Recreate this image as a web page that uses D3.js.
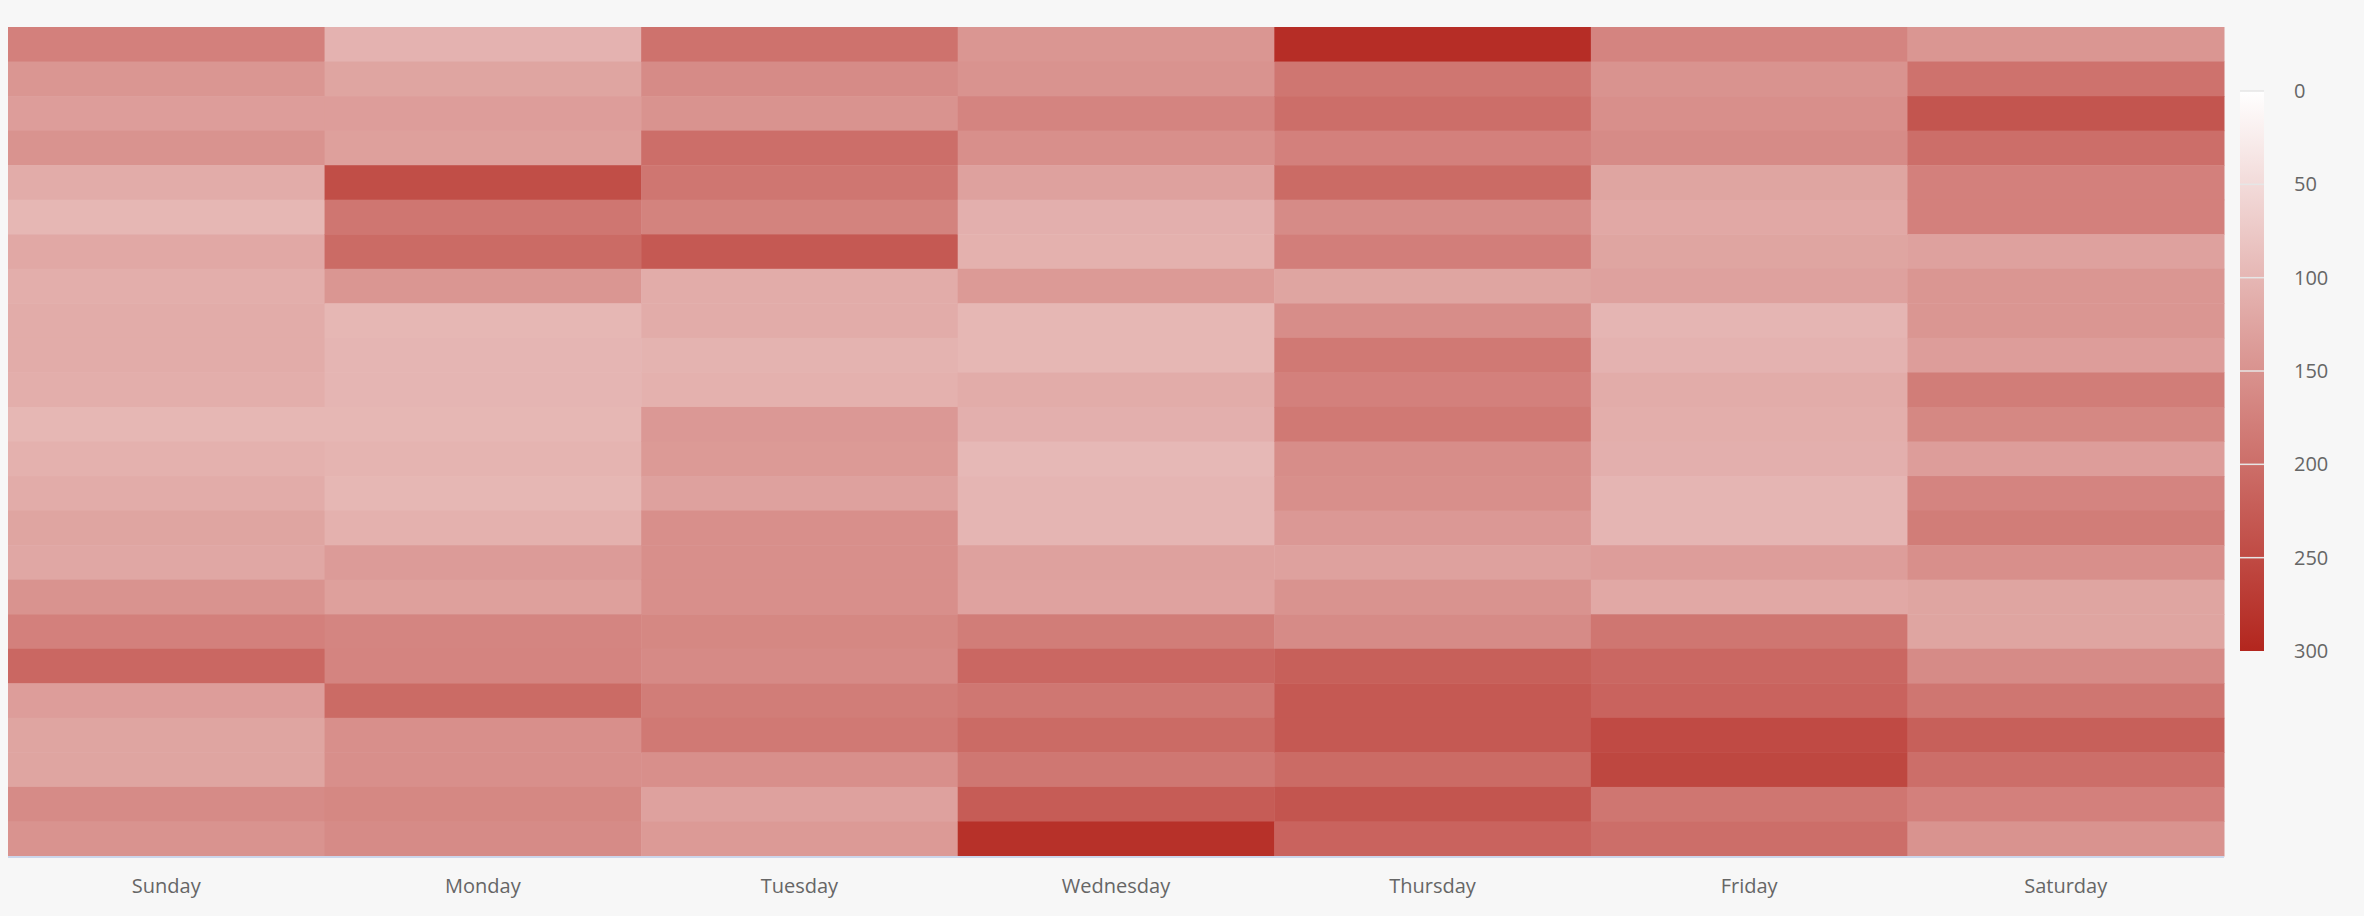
<!DOCTYPE html>
<html><head><meta charset="utf-8">
<script src="https://cdn.jsdelivr.net/npm/d3@7/dist/d3.min.js"></script>
<style>body{margin:0;background:#f7f7f7;}svg{display:block;font-family:"Open Sans","DejaVu Sans",sans-serif;}</style>
</head><body><svg id="c" width="2364" height="916"></svg>
<script>
const days = ["Sunday","Monday","Tuesday","Wednesday","Thursday","Friday","Saturday"];
const hours = d3.range(24);
const sunday    = [175,145,135,150,115,100,120,112,115,115,112,100,108,115,125,122,150,175,210,135,125,125,160,150];
const monday    = [106,125,135,132,245,190,205,145,100,102,102,100,104,100,108,138,132,168,170,205,155,155,165,160];
const tuesday   = [195,160,150,200,190,172,230,115,115,105,108,142,140,130,155,155,155,165,162,180,185,155,130,140];
const wednesday = [145,150,170,155,130,110,108,140,100,100,115,110,98,102,102,130,128,180,210,188,205,188,225,285];
const thursday  = [290,190,200,175,205,160,178,125,158,185,175,185,158,155,142,130,150,160,220,230,230,205,235,215];
const friday    = [170,150,155,160,125,120,125,130,102,106,115,112,110,102,102,135,120,190,210,215,250,255,190,200];
const saturday  = [145,195,235,200,175,175,130,145,145,135,180,165,135,170,180,155,125,125,160,190,220,200,175,150];
const series = [sunday,monday,tuesday,wednesday,thursday,friday,saturday];
const legendTicks = [0,50,100,150,200,250,300];

const svg = d3.select("#c");
const L=8,R=2224,T=27,B=856;
const x = d3.scaleBand().domain(days).range([L,R]);
const y = d3.scaleBand().domain(hours).range([T,B]);
const color = d3.scaleLinear().domain([0,300]).range(["#ffffff","#b3261e"]).interpolate(d3.interpolateRgb);

const cells=[];
series.forEach((s,i)=>s.forEach((v,h)=>cells.push({d:days[i],h,v})));
svg.append("g").selectAll("rect").data(cells).join("rect")
  .attr("x",d=>x(d.d)).attr("y",d=>y(d.h))
  .attr("width",x.bandwidth()+0.5).attr("height",y.bandwidth()+0.5)
  .attr("fill",d=>color(d.v));

svg.append("line").attr("x1",L).attr("x2",R).attr("y1",B+1).attr("y2",B+1).attr("stroke","#ccd6eb").attr("stroke-width",2);
svg.append("g").selectAll("text").data(days).join("text")
  .attr("x",d=>x(d)+x.bandwidth()/2).attr("y",893).attr("text-anchor","middle")
  .attr("font-size",20).attr("fill","#666").text(d=>d);

// legend
const ly = d3.scaleLinear().domain([0,300]).range([91,651]);
const defs = svg.append("defs");
const g = defs.append("linearGradient").attr("id","lg").attr("x1",0).attr("x2",0).attr("y1",0).attr("y2",1);
g.append("stop").attr("offset","0%").attr("stop-color",color(0));
g.append("stop").attr("offset","100%").attr("stop-color",color(300));
svg.append("rect").attr("x",2240).attr("y",ly(0)).attr("width",24).attr("height",ly(300)-ly(0)).attr("fill","url(#lg)");
svg.append("g").selectAll("line").data(legendTicks.slice(0,-1)).join("line")
  .attr("x1",2240).attr("x2",2264).attr("y1",d=>ly(d)).attr("y2",d=>ly(d)).attr("stroke","#e6e6e6").attr("stroke-width",1.5);
svg.append("g").selectAll("text").data(legendTicks).join("text")
  .attr("x",2294).attr("y",d=>ly(d)+7).attr("font-size",20).attr("fill","#666").text(d=>d);
</script></body></html>
